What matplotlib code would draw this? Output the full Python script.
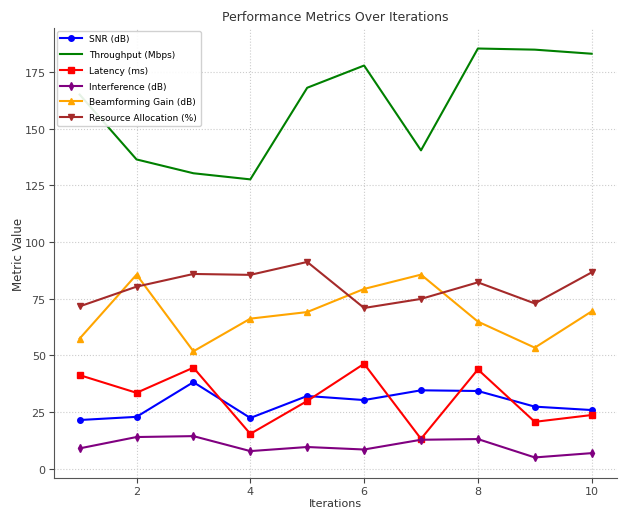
import matplotlib
matplotlib.use('Agg')
import matplotlib.pyplot as plt

iterations = [1, 2, 3, 4, 5, 6, 7, 8, 9, 10]
snr = [21.5, 22.9, 38.2, 22.4, 32.1, 30.3, 34.6, 34.3, 27.4, 25.9]
throughput = [165.0, 136.4, 130.3, 127.6, 168.0, 177.8, 140.4, 185.3, 184.8, 183.0]
latency = [41.3, 33.5, 44.6, 15.4, 29.9, 46.3, 13.2, 43.8, 20.7, 23.7]
interference = [9.0, 14.0, 14.4, 7.8, 9.6, 8.5, 12.8, 13.1, 5.0, 6.9]
beamforming = [57.4, 85.6, 51.8, 66.2, 69.1, 79.3, 85.6, 64.9, 53.4, 69.4]
resource = [71.6, 80.3, 85.9, 85.5, 91.2, 70.9, 74.9, 82.2, 72.9, 86.6]

fig, ax = plt.subplots(figsize=(6.21, 5.10), dpi=100)
fig.subplots_adjust(left=0.087, right=0.994, bottom=0.061, top=0.943)

ax.plot(iterations, snr, marker='o', color='blue', markersize=4, label='SNR (dB)')
ax.plot(iterations, throughput, color='green', label='Throughput (Mbps)')
ax.plot(iterations, latency, marker='s', color='red', markersize=4, label='Latency (ms)')
ax.plot(iterations, interference, marker='d', color='purple', markersize=4, label='Interference (dB)')
ax.plot(iterations, beamforming, marker='^', color='orange', markersize=4, label='Beamforming Gain (dB)')
ax.plot(iterations, resource, marker='v', color='brown', markersize=4, label='Resource Allocation (%)')

ax.set_title('Performance Metrics Over Iterations', fontsize=9, color='#333333')
ax.set_xlabel('Iterations', fontsize=8, color='#333333', labelpad=1)
ax.set_ylabel('Metric Value', fontsize=8.5, color='#333333', labelpad=0)
ax.tick_params(labelsize=8, colors='#444444', pad=2.5)
ax.grid(True, linestyle=':', color='#cccccc')
ax.spines['top'].set_visible(False)
ax.spines['right'].set_visible(False)
ax.spines['left'].set_color('#555555')
ax.spines['bottom'].set_color('#555555')
ax.legend(loc='upper left', fontsize=6.5, labelspacing=0.75, handlelength=2.4,
          borderaxespad=0.3, framealpha=0.9)

fig.savefig('out.png', dpi=100)
